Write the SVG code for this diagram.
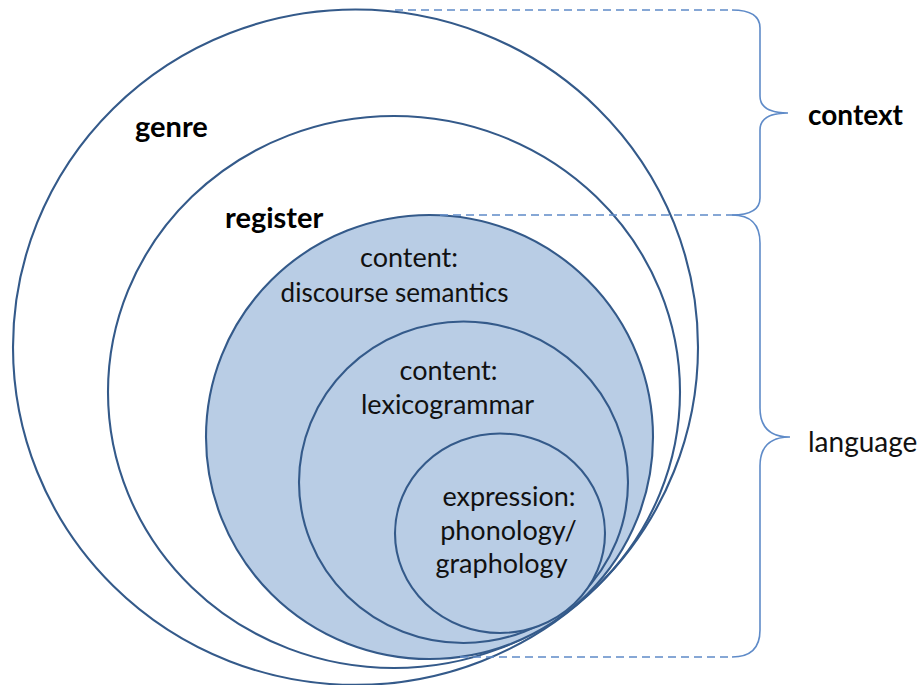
<svg xmlns="http://www.w3.org/2000/svg" width="918" height="685" viewBox="0 0 918 685">
<style>
.ring{fill:none;stroke:#345A8A;stroke-width:2.1}
.fill{fill:#B9CDE5;stroke:#345A8A;stroke-width:2.1}
.dash{fill:none;stroke:#5F8BC8;stroke-width:1.6;stroke-dasharray:8 5}
.brace{fill:none;stroke:#5F8BC8;stroke-width:1.6}
.b{font-family:Lato,"Liberation Sans",sans-serif;font-weight:bold;font-size:29px;fill:#000}
.r{font-family:Lato,"Liberation Sans",sans-serif;font-size:27px;fill:#111}
</style>
<rect width="918" height="685" fill="#fff"/>
<g id="genre">
<ellipse class="ring" cx="355.5" cy="347.2" rx="342.5" ry="337.7"/>
<text class="b" x="135" y="137">genre</text>
</g>
<g id="register">
<ellipse class="ring" cx="394" cy="392" rx="286" ry="276"/>
<text class="b" x="225" y="228">register</text>
</g>
<g id="discourse-semantics">
<ellipse class="fill" cx="429.5" cy="437" rx="223.5" ry="222"/>
<text class="r" x="409" y="267" text-anchor="middle">content:</text>
<text class="r" x="394.5" y="302" text-anchor="middle" style="font-size:26px">discourse semantics</text>
</g>
<g id="lexicogrammar">
<ellipse class="fill" cx="463.5" cy="482.25" rx="164.5" ry="160.75"/>
<text class="r" x="448.5" y="380" text-anchor="middle">content:</text>
<text class="r" x="447.5" y="414" text-anchor="middle">lexicogrammar</text>
</g>
<g id="expression">
<ellipse class="fill" cx="500" cy="533.25" rx="105" ry="99.75"/>
<text class="r" x="509" y="506" text-anchor="middle">expression:</text>
<text class="r" x="508.5" y="540" text-anchor="middle">phonology/</text>
<text class="r" x="501.5" y="573" text-anchor="middle">graphology</text>
</g>
<g id="connectors">
<line class="dash" x1="395" y1="10" x2="732" y2="10"/>
<line class="dash" x1="440" y1="215" x2="732" y2="215"/>
<line class="dash" x1="460" y1="657" x2="732" y2="657"/>
<path class="brace" d="M732,10 Q760,10 760,28 L760,96 Q760,113 788,113 Q760,113 760,130 L760,198 Q760,215 732,215"/>
<path class="brace" d="M732,215 Q760,215 760,243 L760,408 Q760,437 790,437 Q760,437 760,466 L760,630 Q760,657 732,657"/>
</g>
<g id="context">
<text class="b" x="808" y="125" style="font-size:28px">context</text>
</g>
<g id="language">
<text class="r" x="808" y="452" style="font-size:28px">language</text>
</g>
</svg>
